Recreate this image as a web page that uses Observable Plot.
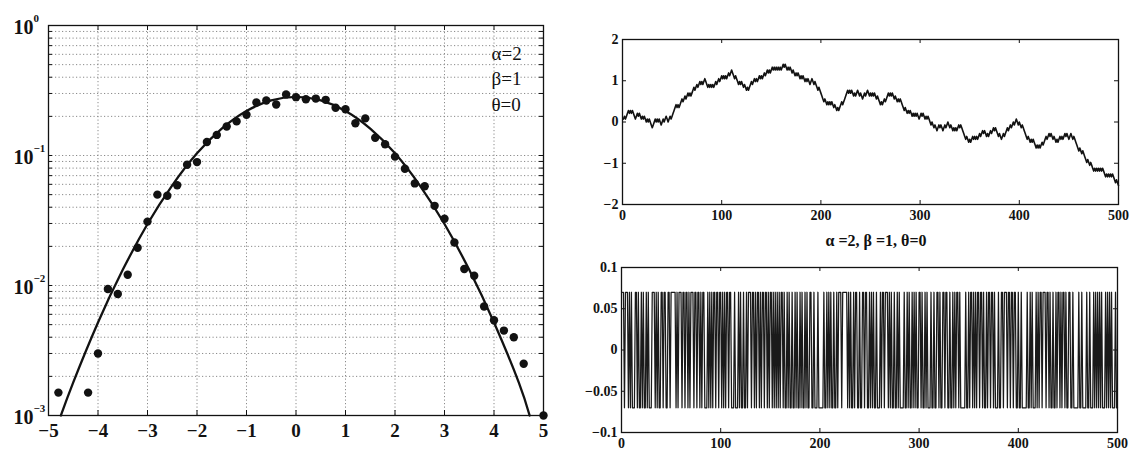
<!DOCTYPE html>
<html><head><meta charset="utf-8">
<script src="https://cdn.jsdelivr.net/npm/d3@7"></script>
<script src="https://cdn.jsdelivr.net/npm/@observablehq/plot@0.6"></script>
<style>
body{margin:0;background:#fff;}
#wrap{position:relative;width:1132px;height:452px;overflow:hidden;background:#fff;}
.panel{position:absolute;}
#title{position:absolute;left:621px;width:510px;top:232px;text-align:center;font-family:"Liberation Serif","Times New Roman",Times,serif;font-weight:bold;font-size:16px;color:#111;white-space:pre;}
</style></head><body>
<div id="wrap">
  <div class="panel" id="left" style="left:0;top:0"></div>
  <div class="panel" id="walk" style="left:570px;top:0"></div>
  <div id="title"></div>
  <div class="panel" id="inc" style="left:570px;top:225px"></div>
</div>
<script>
// ---------- data: left panel (empirical density, log scale) ----------
const ptX = [-4.8,-4.2,-4.0,-3.8,-3.6,-3.4,-3.2,-3.0,-2.8,-2.6,-2.4,-2.2,-2.0,-1.8,-1.6,-1.4,-1.2,-1.0,-0.8,-0.6,-0.4,-0.2,
             0.0,0.2,0.4,0.6,0.8,1.0,1.2,1.4,1.6,1.8,2.0,2.2,2.4,2.6,2.8,3.0,3.2,3.4,3.6,3.8,4.0,4.2,4.4,4.6,5.0];
const ptY = [0.0015,0.0015,0.0030,0.0094,0.0086,0.0121,0.0195,0.031,0.050,0.049,0.059,0.085,0.089,0.127,0.144,0.167,0.183,0.206,0.256,0.265,0.247,0.295,
             0.281,0.271,0.274,0.268,0.233,0.227,0.177,0.193,0.137,0.122,0.098,0.079,0.061,0.058,0.041,0.0326,0.0214,0.0134,0.0119,0.0069,0.0054,0.0045,0.0040,0.0025,0.001];
const curveX = [-4.75,-4.5,-4,-3.5,-3,-2.5,-2,-1.5,-1,-0.5,0,0.5,1,1.5,2,2.5,3,3.5,4,4.5,4.72];
const curveY = [0.0010,0.0018,0.0052,0.0132,0.0297,0.059,0.104,0.161,0.220,0.265,0.282,0.265,0.220,0.161,0.104,0.059,0.0297,0.0132,0.0052,0.0018,0.0010];
const paramLabels = ["α=2","β=1","θ=0"];
const xTicksL = [-5,-4,-3,-2,-1,0,1,2,3,4,5];
const yMajorL = [1,0.1,0.01,0.001];
const yExpL = ["0","−1","−2","−3"];
const minorMult = [2,3,4,5,6,7,8,9];

// ---------- data: right panels (increments of size 0.07, walk = running sum) ----------
const stepSize = 0.07;
const incSigns = [
"++-+++-+","-+---+","+-+--+-+-","-+-+-","--+","++-+","-+--+","+-++-","-++-+","+++",
"+-+-+","++-++-++-","+-+++-++-","++-+-++-","--+","-+-+-","++-++-+","+-+-+-+","+-++","---+--",
"-+-+-","-+--+-+","++-++-","+-++-+-++-","++-+-++-+-+-","+-+-++-+-","-+-+--+","--+-+--+","-+--+-+--+","+--+-",
"--+--","---+-","-+-+-","+--+","--+-+","++-++","+++-+","-+","--+","-++-",
"-+--+","+-++-","-+-+-","+--+-","--+-","++-++","+-+-+","--+--+","-+---","-+--+-",
"+--+-","+-+-","-++-+-","-+-+-","--+-","-+--","++-+-","-++-+","+--+-","-+-+-",
"++-+","----","-+--+-","++-+","-+-++-","++-+-","-+-+","+-++-+-","--+--","++-++",
"+-++","-++-+","+","--+-","-+---","--+--","+-+-","--+-+-","++-++","+-++",
"-+--+-","-+-","++-+-+","+-+--+","+--+","---","--+--+-","---+-","-+---+-","+-+-+-+-",
"--+-+-","+-+-","--+--"
];
const walkTicksX = [0,100,200,300,400,500];
const walkTicksY = [-2,-1,0,1,2];
const incTicksY = [-0.1,-0.05,0,0.05,0.1];
const titleText = "α =2, β =1, θ=0";

// ---------- build tables ----------
const points = ptX.map((x,i)=>({x, y: ptY[i]}));
const curve = curveX.map((x,i)=>({x, y: curveY[i]}));
const incData = incSigns.join("").split("").map((c,i)=>({i: i+1, v: c === "+" ? stepSize : -stepSize}));
const yMinorL = yMajorL.slice(1).flatMap(d => minorMult.map(m => m*d));
const yAllL = [...yMajorL, ...yMinorL];
const fmtMinus = d => d < 0 ? "−" + String(-d) : String(d);

const serif = "Liberation Serif, Times New Roman, Times, serif";
const ink = "#121212";

// ---------- left panel ----------
{
  const W=560, H=452, ml=48, mr=W-543, mt=25, mb=H-415;
  const iw=W-ml-mr, ih=H-mt-mb;
  const grid = {stroke:"#8a8a8a", strokeOpacity:1, strokeDasharray:"1.2,2.3", strokeWidth:1};
  const chart = Plot.plot({
    width:W, height:H, marginLeft:ml, marginRight:mr, marginTop:mt, marginBottom:mb,
    style:{fontFamily:serif, fontSize:"19px", fontWeight:"bold", background:"transparent", color:ink},
    x:{domain:[-5,5], ticks:xTicksL, tickSize:0, tickPadding:8, label:null, tickFormat:fmtMinus},
    y:{type:"log", domain:[0.001,1], axis:null},
    marks:[
      Plot.gridX(xTicksL, grid),
      Plot.gridY(yAllL, grid),
      Plot.tickX(xTicksL, {x:d=>d, insetTop:ih-5, stroke:ink}),
      Plot.tickX(xTicksL, {x:d=>d, insetBottom:ih-5, stroke:ink}),
      Plot.tickY(yAllL, {y:d=>d, insetRight:iw-4, stroke:ink}),
      Plot.tickY(yAllL, {y:d=>d, insetLeft:iw-4, stroke:ink}),
      Plot.line(curve, {x:"x", y:"y", curve:"natural", stroke:ink, strokeWidth:2.3}),
      Plot.dot(points, {x:"x", y:"y", r:4.2, fill:ink, stroke:null}),
      Plot.frame({stroke:ink, strokeWidth:1.3}),
      Plot.text([paramLabels.join("\n")], {frameAnchor:"top-right", textAnchor:"start", lineAnchor:"top",
        dx:-52, dy:16, fontSize:19, lineHeight:1.35, fontWeight:"normal", fill:ink}),
      Plot.text(yMajorL, {y:d=>d, text:()=>"10", frameAnchor:"left", textAnchor:"end", dx:-15, dy:2, fontSize:20, fill:ink}),
      Plot.text(yMajorL, {y:d=>d, text:(d,i)=>yExpL[i], frameAnchor:"left", textAnchor:"start", dx:-15, dy:-7, fontSize:11, fill:ink})
    ]
  });
  document.getElementById("left").appendChild(chart);
}

// ---------- top-right panel: random walk ----------
{
  const W=562, H=228, ml=52, mr=W-(1118-570), mt=39, mb=H-204;
  const iw=W-ml-mr, ih=H-mt-mb;
  const chart = Plot.plot({
    width:W, height:H, marginLeft:ml, marginRight:mr, marginTop:mt, marginBottom:mb,
    style:{fontFamily:serif, fontSize:"14px", fontWeight:"bold", background:"transparent", color:ink},
    x:{domain:[0,500], ticks:walkTicksX, tickSize:0, tickPadding:6, label:null},
    y:{domain:[-2,2], ticks:walkTicksY, tickSize:0, tickPadding:4, label:null, tickFormat:fmtMinus},
    marks:[
      Plot.tickX(walkTicksX, {x:d=>d, insetTop:ih-4, stroke:ink}),
      Plot.tickX(walkTicksX, {x:d=>d, insetBottom:ih-4, stroke:ink}),
      Plot.tickY(walkTicksY, {y:d=>d, insetRight:iw-4, stroke:ink}),
      Plot.tickY(walkTicksY, {y:d=>d, insetLeft:iw-4, stroke:ink}),
      Plot.lineY(incData, Plot.mapY("cumsum", {x:"i", y:"v", stroke:ink, strokeWidth:1.6})),
      Plot.frame({stroke:ink, strokeWidth:1.3})
    ]
  });
  document.getElementById("walk").appendChild(chart);
}

document.getElementById("title").textContent = titleText;

// ---------- bottom-right panel: increments ----------
{
  const W=562, H=227, ml=51, mr=W-(1117-570), mt=42, mb=H-(432-225);
  const iw=W-ml-mr, ih=H-mt-mb;
  const chart = Plot.plot({
    width:W, height:H, marginLeft:ml, marginRight:mr, marginTop:mt, marginBottom:mb,
    style:{fontFamily:serif, fontSize:"14px", fontWeight:"bold", background:"transparent", color:ink},
    x:{domain:[0,500], ticks:walkTicksX, tickSize:0, tickPadding:6, label:null},
    y:{domain:[-0.1,0.1], ticks:incTicksY, tickSize:0, tickPadding:4, label:null, tickFormat:fmtMinus},
    marks:[
      Plot.tickX(walkTicksX, {x:d=>d, insetTop:ih-4, stroke:ink}),
      Plot.tickX(walkTicksX, {x:d=>d, insetBottom:ih-4, stroke:ink}),
      Plot.tickY(incTicksY, {y:d=>d, insetRight:iw-4, stroke:ink}),
      Plot.tickY(incTicksY, {y:d=>d, insetLeft:iw-4, stroke:ink}),
      Plot.lineY(incData, {x:"i", y:"v", stroke:"#1a1a1a", strokeWidth:1.25}),
      Plot.frame({stroke:ink, strokeWidth:1.3})
    ]
  });
  document.getElementById("inc").appendChild(chart);
}
</script>
</body></html>
